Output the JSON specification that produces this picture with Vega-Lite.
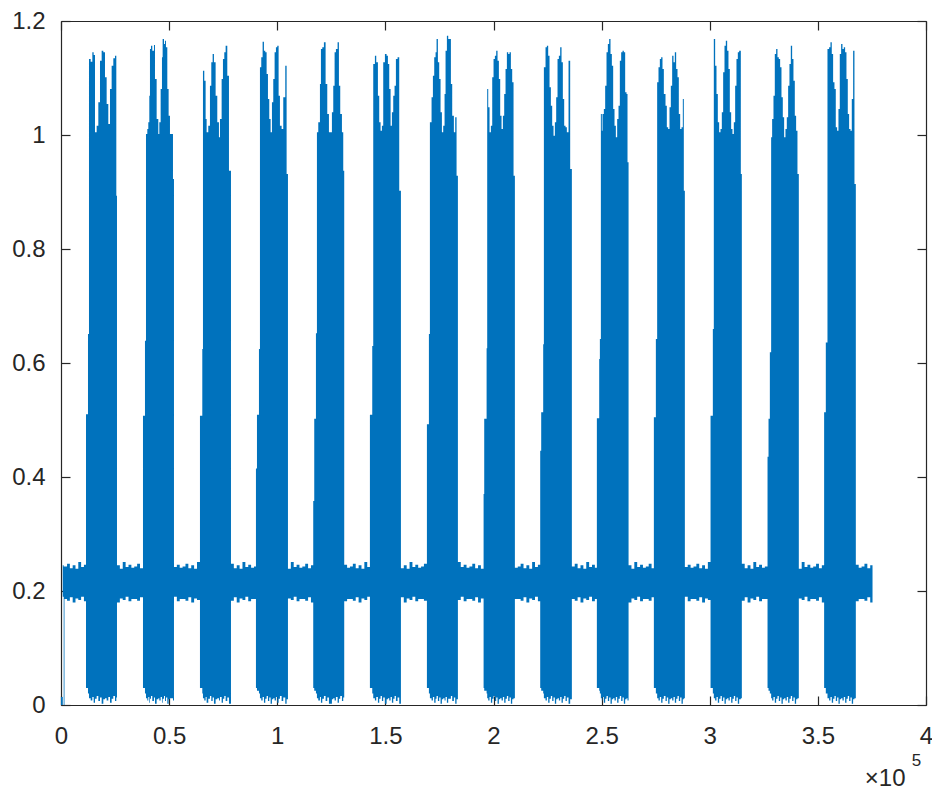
{
"$schema": "https://vega.github.io/schema/vega-lite/v6.json",
"width": 865, "height": 684,
"autosize": {"type": "none"},
"padding": {"left": 61, "top": 21, "right": 6, "bottom": 84},
"background": "white",
"config": {"view": {"stroke": null}, "axis": {"grid": false, "domainColor": "#262626", "tickColor": "#262626", "labelColor": "#262626", "labelFont": "Liberation Sans", "labelFontSize": 24, "domainWidth": 1.2, "tickWidth": 1.2, "tickSize": -9, "labelFlush": false, "labelOverlap": false, "titleFont": "Liberation Sans", "titleColor": "#262626", "titleFontWeight": "normal"}},
"data": {"values": [
{"t":0,"hi":0.014,"lo":0},{"t":0.008,"hi":0.245,"lo":0.19},{"t":0.0125,"hi":0.243,"lo":0},
{"t":0.016,"hi":0.243,"lo":0.186},{"t":0.028,"hi":0.248,"lo":0.183},{"t":0.041,"hi":0.240,"lo":0.189},{"t":0.054,"hi":0.245,"lo":0.180},{"t":0.067,"hi":0.239,"lo":0.187},{"t":0.080,"hi":0.251,"lo":0.184},{"t":0.093,"hi":0.242,"lo":0.190},{"t":0.106,"hi":0.246,"lo":0.182},
{"t":0.1156,"hi":0.510,"lo":0.03},{"t":0.1248,"hi":0.651,"lo":0.02},{"t":0.1294,"hi":1.1333,"lo":0.012},{"t":0.1372,"hi":1.1287,"lo":0.008},{"t":0.1449,"hi":1.1450,"lo":0.014},{"t":0.1510,"hi":1.1404,"lo":0.004},{"t":0.1572,"hi":1.0047,"lo":0.011},{"t":0.1649,"hi":1.0164,"lo":0.016},{"t":0.1726,"hi":1.0573,"lo":0.007},{"t":0.1803,"hi":1.1304,"lo":0.013},{"t":0.1880,"hi":1.1480,"lo":0.002},{"t":0.1957,"hi":1.1450,"lo":0.010},{"t":0.2034,"hi":1.1012,"lo":0.012},{"t":0.2111,"hi":1.0544,"lo":0.008},{"t":0.2188,"hi":1.0193,"lo":0.014},{"t":0.2265,"hi":1.0807,"lo":0.004},{"t":0.2342,"hi":1.1216,"lo":0.011},{"t":0.2419,"hi":1.1345,"lo":0.016},{"t":0.2496,"hi":1.1392,"lo":0.007},{"t":0.2558,"hi":0.8936,"lo":0.013},
{"t":0.2589,"hi":0.245,"lo":0.180},{"t":0.2722,"hi":0.239,"lo":0.187},{"t":0.2855,"hi":0.251,"lo":0.184},{"t":0.2988,"hi":0.242,"lo":0.190},{"t":0.3121,"hi":0.246,"lo":0.182},{"t":0.3254,"hi":0.241,"lo":0.186},{"t":0.3387,"hi":0.243,"lo":0.186},{"t":0.3520,"hi":0.248,"lo":0.183},{"t":0.3653,"hi":0.240,"lo":0.189},
{"t":0.3791,"hi":0.5076,"lo":0.03},{"t":0.3883,"hi":0.639,"lo":0.02},{"t":0.3930,"hi":1.0018,"lo":0.012},{"t":0.3991,"hi":1.0105,"lo":0.008},{"t":0.4037,"hi":1.0222,"lo":0.014},{"t":0.4084,"hi":1.0690,"lo":0.004},{"t":0.4114,"hi":1.1509,"lo":0.011},{"t":0.4161,"hi":1.1567,"lo":0.016},{"t":0.4222,"hi":1.1480,"lo":0.007},{"t":0.4299,"hi":1.1579,"lo":0.013},{"t":0.4346,"hi":1.0982,"lo":0.002},{"t":0.4423,"hi":1.0281,"lo":0.010},{"t":0.4500,"hi":1.0018,"lo":0.012},{"t":0.4546,"hi":1.0222,"lo":0.008},{"t":0.4608,"hi":1.0807,"lo":0.014},{"t":0.4669,"hi":1.1363,"lo":0.004},{"t":0.4700,"hi":1.1684,"lo":0.011},{"t":0.4762,"hi":1.1596,"lo":0.016},{"t":0.4808,"hi":1.1655,"lo":0.007},{"t":0.4854,"hi":1.1538,"lo":0.013},{"t":0.4916,"hi":1.0807,"lo":0.002},{"t":0.4977,"hi":1.0339,"lo":0.010},{"t":0.5039,"hi":1.0018,"lo":0.012},{"t":0.5178,"hi":0.9228,"lo":0.008},
{"t":0.5224,"hi":0.242,"lo":0.190},{"t":0.5357,"hi":0.246,"lo":0.182},{"t":0.5490,"hi":0.241,"lo":0.186},{"t":0.5623,"hi":0.243,"lo":0.186},{"t":0.5756,"hi":0.248,"lo":0.183},{"t":0.5889,"hi":0.240,"lo":0.189},{"t":0.6022,"hi":0.245,"lo":0.180},{"t":0.6155,"hi":0.239,"lo":0.187},{"t":0.6288,"hi":0.251,"lo":0.184},
{"t":0.6426,"hi":0.5076,"lo":0.03},{"t":0.6534,"hi":0.6246,"lo":0.02},{"t":0.6565,"hi":1.1129,"lo":0.012},{"t":0.6626,"hi":1.0953,"lo":0.008},{"t":0.6688,"hi":1.0281,"lo":0.014},{"t":0.6734,"hi":1.0047,"lo":0.004},{"t":0.6811,"hi":1.0164,"lo":0.011},{"t":0.6888,"hi":1.0865,"lo":0.016},{"t":0.6950,"hi":1.1275,"lo":0.007},{"t":0.7012,"hi":1.1421,"lo":0.013},{"t":0.7073,"hi":1.1275,"lo":0.002},{"t":0.7150,"hi":1.0690,"lo":0.010},{"t":0.7227,"hi":1.0222,"lo":0.012},{"t":0.7304,"hi":0.9959,"lo":0.008},{"t":0.7351,"hi":1.0281,"lo":0.014},{"t":0.7428,"hi":1.0982,"lo":0.004},{"t":0.7489,"hi":1.1333,"lo":0.011},{"t":0.7551,"hi":1.1450,"lo":0.016},{"t":0.7613,"hi":1.1567,"lo":0.007},{"t":0.7690,"hi":1.1041,"lo":0.013},{"t":0.7767,"hi":0.9374,"lo":0.002},
{"t":0.7860,"hi":0.248,"lo":0.183},{"t":0.7993,"hi":0.240,"lo":0.189},{"t":0.8126,"hi":0.245,"lo":0.180},{"t":0.8259,"hi":0.239,"lo":0.187},{"t":0.8392,"hi":0.251,"lo":0.184},{"t":0.8525,"hi":0.242,"lo":0.190},{"t":0.8658,"hi":0.246,"lo":0.182},{"t":0.8791,"hi":0.241,"lo":0.186},{"t":0.8924,"hi":0.243,"lo":0.186},
{"t":0.9015,"hi":0.415,"lo":0.03},{"t":0.9062,"hi":0.509,"lo":0.025},{"t":0.9154,"hi":0.6246,"lo":0.02},{"t":0.9200,"hi":1.1187,"lo":0.012},{"t":0.9261,"hi":1.1363,"lo":0.008},{"t":0.9323,"hi":1.1637,"lo":0.014},{"t":0.9385,"hi":1.1480,"lo":0.004},{"t":0.9446,"hi":1.1450,"lo":0.011},{"t":0.9508,"hi":1.1070,"lo":0.016},{"t":0.9570,"hi":1.0632,"lo":0.007},{"t":0.9631,"hi":1.0281,"lo":0.013},{"t":0.9693,"hi":1.0047,"lo":0.002},{"t":0.9755,"hi":1.0573,"lo":0.010},{"t":0.9816,"hi":1.0982,"lo":0.012},{"t":0.9878,"hi":1.1450,"lo":0.008},{"t":0.9939,"hi":1.1538,"lo":0.014},{"t":1.0001,"hi":1.1567,"lo":0.004},{"t":1.0063,"hi":1.0690,"lo":0.011},{"t":1.0124,"hi":1.0164,"lo":0.016},{"t":1.0202,"hi":1.0105,"lo":0.007},{"t":1.0278,"hi":1.0661,"lo":0.013},{"t":1.0371,"hi":1.1216,"lo":0.002},{"t":1.0433,"hi":0.9316,"lo":0.010},
{"t":1.0495,"hi":0.239,"lo":0.187},{"t":1.0628,"hi":0.251,"lo":0.184},{"t":1.0761,"hi":0.242,"lo":0.190},{"t":1.0894,"hi":0.246,"lo":0.182},{"t":1.1027,"hi":0.241,"lo":0.186},{"t":1.1160,"hi":0.243,"lo":0.186},{"t":1.1293,"hi":0.248,"lo":0.183},{"t":1.1426,"hi":0.240,"lo":0.189},{"t":1.1559,"hi":0.245,"lo":0.180},
{"t":1.1664,"hi":0.358,"lo":0.03},{"t":1.1711,"hi":0.502,"lo":0.025},{"t":1.1789,"hi":0.652,"lo":0.02},{"t":1.1835,"hi":1.0047,"lo":0.012},{"t":1.1897,"hi":1.0222,"lo":0.008},{"t":1.1974,"hi":1.0895,"lo":0.014},{"t":1.2020,"hi":1.1509,"lo":0.004},{"t":1.2082,"hi":1.1538,"lo":0.011},{"t":1.2158,"hi":1.1626,"lo":0.016},{"t":1.2236,"hi":1.0895,"lo":0.007},{"t":1.2313,"hi":1.0368,"lo":0.013},{"t":1.2390,"hi":1.0047,"lo":0.002},{"t":1.2528,"hi":1.0398,"lo":0.010},{"t":1.2590,"hi":1.0865,"lo":0.012},{"t":1.2652,"hi":1.1450,"lo":0.008},{"t":1.2713,"hi":1.1509,"lo":0.014},{"t":1.2790,"hi":1.1626,"lo":0.004},{"t":1.2852,"hi":1.0865,"lo":0.011},{"t":1.2913,"hi":1.0368,"lo":0.016},{"t":1.2991,"hi":1.0047,"lo":0.007},{"t":1.3052,"hi":0.9374,"lo":0.013},
{"t":1.3097,"hi":0.246,"lo":0.182},{"t":1.3230,"hi":0.241,"lo":0.186},{"t":1.3363,"hi":0.243,"lo":0.186},{"t":1.3496,"hi":0.248,"lo":0.183},{"t":1.3629,"hi":0.240,"lo":0.189},{"t":1.3762,"hi":0.245,"lo":0.180},{"t":1.3895,"hi":0.239,"lo":0.187},{"t":1.4028,"hi":0.251,"lo":0.184},{"t":1.4161,"hi":0.242,"lo":0.190},
{"t":1.4285,"hi":0.509,"lo":0.03},{"t":1.4393,"hi":0.630,"lo":0.02},{"t":1.4439,"hi":1.1246,"lo":0.012},{"t":1.4516,"hi":1.1392,"lo":0.008},{"t":1.4578,"hi":1.1275,"lo":0.014},{"t":1.4655,"hi":1.0690,"lo":0.004},{"t":1.4716,"hi":1.0222,"lo":0.011},{"t":1.4778,"hi":1.0076,"lo":0.016},{"t":1.4840,"hi":1.0164,"lo":0.007},{"t":1.4901,"hi":1.1275,"lo":0.013},{"t":1.4979,"hi":1.1421,"lo":0.002},{"t":1.5056,"hi":1.1392,"lo":0.010},{"t":1.5117,"hi":1.1246,"lo":0.012},{"t":1.5179,"hi":1.0807,"lo":0.008},{"t":1.5241,"hi":1.0164,"lo":0.014},{"t":1.5302,"hi":1.0398,"lo":0.004},{"t":1.5364,"hi":1.0690,"lo":0.011},{"t":1.5425,"hi":1.0865,"lo":0.016},{"t":1.5487,"hi":1.1333,"lo":0.007},{"t":1.5564,"hi":1.1363,"lo":0.013},{"t":1.5641,"hi":0.9023,"lo":0.002},
{"t":1.5719,"hi":0.240,"lo":0.189},{"t":1.5852,"hi":0.245,"lo":0.180},{"t":1.5985,"hi":0.239,"lo":0.187},{"t":1.6118,"hi":0.251,"lo":0.184},{"t":1.6251,"hi":0.242,"lo":0.190},{"t":1.6384,"hi":0.246,"lo":0.182},{"t":1.6517,"hi":0.241,"lo":0.186},{"t":1.6650,"hi":0.243,"lo":0.186},{"t":1.6783,"hi":0.248,"lo":0.183},
{"t":1.6921,"hi":0.4924,"lo":0.03},{"t":1.7013,"hi":0.651,"lo":0.02},{"t":1.7059,"hi":1.0222,"lo":0.012},{"t":1.7136,"hi":1.0661,"lo":0.008},{"t":1.7198,"hi":1.1041,"lo":0.014},{"t":1.7259,"hi":1.1363,"lo":0.004},{"t":1.7321,"hi":1.1450,"lo":0.011},{"t":1.7367,"hi":1.1684,"lo":0.016},{"t":1.7429,"hi":1.1275,"lo":0.007},{"t":1.7490,"hi":1.0982,"lo":0.013},{"t":1.7552,"hi":1.0398,"lo":0.002},{"t":1.7614,"hi":1.0047,"lo":0.010},{"t":1.7675,"hi":1.0164,"lo":0.012},{"t":1.7737,"hi":1.0719,"lo":0.008},{"t":1.7783,"hi":1.1480,"lo":0.014},{"t":1.7845,"hi":1.1743,"lo":0.004},{"t":1.7906,"hi":1.1684,"lo":0.011},{"t":1.8030,"hi":1.0895,"lo":0.016},{"t":1.8091,"hi":1.0339,"lo":0.007},{"t":1.8168,"hi":1.0047,"lo":0.013},{"t":1.8230,"hi":1.0310,"lo":0.002},{"t":1.8292,"hi":0.9287,"lo":0.010},
{"t":1.8354,"hi":0.251,"lo":0.184},{"t":1.8487,"hi":0.242,"lo":0.190},{"t":1.8620,"hi":0.246,"lo":0.182},{"t":1.8753,"hi":0.241,"lo":0.186},{"t":1.8886,"hi":0.243,"lo":0.186},{"t":1.9019,"hi":0.248,"lo":0.183},{"t":1.9152,"hi":0.240,"lo":0.189},{"t":1.9285,"hi":0.245,"lo":0.180},{"t":1.9418,"hi":0.239,"lo":0.187},
{"t":1.9542,"hi":0.370,"lo":0.03},{"t":1.9571,"hi":0.502,"lo":0.025},{"t":1.9681,"hi":0.626,"lo":0.02},{"t":1.9709,"hi":1.0807,"lo":0.012},{"t":1.9756,"hi":1.0485,"lo":0.008},{"t":1.9817,"hi":1.0047,"lo":0.014},{"t":1.9879,"hi":1.0164,"lo":0.004},{"t":1.9941,"hi":1.1012,"lo":0.011},{"t":2.0002,"hi":1.1333,"lo":0.016},{"t":2.0064,"hi":1.1392,"lo":0.007},{"t":2.0125,"hi":1.1480,"lo":0.013},{"t":2.0187,"hi":1.1304,"lo":0.002},{"t":2.0249,"hi":1.0982,"lo":0.010},{"t":2.0310,"hi":1.0339,"lo":0.012},{"t":2.0372,"hi":1.0105,"lo":0.008},{"t":2.0434,"hi":1.0339,"lo":0.014},{"t":2.0495,"hi":1.0719,"lo":0.004},{"t":2.0557,"hi":1.1158,"lo":0.011},{"t":2.0619,"hi":1.1450,"lo":0.016},{"t":2.0680,"hi":1.1421,"lo":0.007},{"t":2.0742,"hi":1.1450,"lo":0.013},{"t":2.0804,"hi":1.1158,"lo":0.002},{"t":2.0865,"hi":1.0924,"lo":0.010},{"t":2.0927,"hi":0.9287,"lo":0.012},
{"t":2.0989,"hi":0.241,"lo":0.186},{"t":2.1122,"hi":0.243,"lo":0.186},{"t":2.1255,"hi":0.248,"lo":0.183},{"t":2.1388,"hi":0.240,"lo":0.189},{"t":2.1521,"hi":0.245,"lo":0.180},{"t":2.1654,"hi":0.239,"lo":0.187},{"t":2.1787,"hi":0.251,"lo":0.184},{"t":2.1920,"hi":0.242,"lo":0.190},{"t":2.2053,"hi":0.246,"lo":0.182},
{"t":2.2160,"hi":0.446,"lo":0.03},{"t":2.2206,"hi":0.5135,"lo":0.025},{"t":2.2298,"hi":0.633,"lo":0.02},{"t":2.2330,"hi":1.1187,"lo":0.012},{"t":2.2406,"hi":1.1538,"lo":0.008},{"t":2.2468,"hi":1.1567,"lo":0.014},{"t":2.2529,"hi":1.1392,"lo":0.004},{"t":2.2591,"hi":1.0836,"lo":0.011},{"t":2.2653,"hi":1.0515,"lo":0.016},{"t":2.2714,"hi":1.0164,"lo":0.007},{"t":2.2776,"hi":0.9988,"lo":0.013},{"t":2.2838,"hi":1.0222,"lo":0.002},{"t":2.2899,"hi":1.0661,"lo":0.010},{"t":2.2961,"hi":1.1333,"lo":0.012},{"t":2.3023,"hi":1.1392,"lo":0.008},{"t":2.3084,"hi":1.1538,"lo":0.014},{"t":2.3146,"hi":1.1275,"lo":0.004},{"t":2.3207,"hi":1.0632,"lo":0.011},{"t":2.3269,"hi":1.0164,"lo":0.016},{"t":2.3331,"hi":1.0135,"lo":0.007},{"t":2.3392,"hi":1.0047,"lo":0.013},{"t":2.3470,"hi":1.1304,"lo":0.002},{"t":2.3546,"hi":0.9404,"lo":0.010},
{"t":2.3624,"hi":0.243,"lo":0.186},{"t":2.3757,"hi":0.248,"lo":0.183},{"t":2.3890,"hi":0.240,"lo":0.189},{"t":2.4023,"hi":0.245,"lo":0.180},{"t":2.4156,"hi":0.239,"lo":0.187},{"t":2.4289,"hi":0.251,"lo":0.184},{"t":2.4422,"hi":0.242,"lo":0.190},{"t":2.4555,"hi":0.246,"lo":0.182},{"t":2.4688,"hi":0.241,"lo":0.186},
{"t":2.4780,"hi":0.503,"lo":0.03},{"t":2.4888,"hi":0.607,"lo":0.025},{"t":2.4919,"hi":0.642,"lo":0.02},{"t":2.4965,"hi":1.0368,"lo":0.012},{"t":2.5010,"hi":1.0076,"lo":0.008},{"t":2.5041,"hi":1.0368,"lo":0.014},{"t":2.5103,"hi":1.0456,"lo":0.004},{"t":2.5164,"hi":1.0865,"lo":0.011},{"t":2.5226,"hi":1.1450,"lo":0.016},{"t":2.5288,"hi":1.1596,"lo":0.007},{"t":2.5349,"hi":1.1684,"lo":0.013},{"t":2.5411,"hi":1.1421,"lo":0.002},{"t":2.5473,"hi":1.1216,"lo":0.010},{"t":2.5534,"hi":1.0456,"lo":0.012},{"t":2.5596,"hi":1.0164,"lo":0.008},{"t":2.5658,"hi":0.9959,"lo":0.014},{"t":2.5719,"hi":1.0281,"lo":0.004},{"t":2.5781,"hi":1.0515,"lo":0.011},{"t":2.5842,"hi":1.1304,"lo":0.016},{"t":2.5904,"hi":1.1450,"lo":0.007},{"t":2.5966,"hi":1.1480,"lo":0.013},{"t":2.6027,"hi":1.1450,"lo":0.002},{"t":2.6089,"hi":1.0749,"lo":0.010},{"t":2.6151,"hi":1.0719,"lo":0.012},{"t":2.6197,"hi":0.9521,"lo":0.008},
{"t":2.6246,"hi":0.245,"lo":0.180},{"t":2.6379,"hi":0.239,"lo":0.187},{"t":2.6512,"hi":0.251,"lo":0.184},{"t":2.6645,"hi":0.242,"lo":0.190},{"t":2.6778,"hi":0.246,"lo":0.182},{"t":2.6911,"hi":0.241,"lo":0.186},{"t":2.7044,"hi":0.243,"lo":0.186},{"t":2.7177,"hi":0.248,"lo":0.183},{"t":2.7310,"hi":0.240,"lo":0.189},
{"t":2.7416,"hi":0.5047,"lo":0.03},{"t":2.7508,"hi":0.642,"lo":0.02},{"t":2.7568,"hi":1.0924,"lo":0.012},{"t":2.7630,"hi":1.1187,"lo":0.008},{"t":2.7692,"hi":1.1333,"lo":0.014},{"t":2.7753,"hi":1.1363,"lo":0.004},{"t":2.7815,"hi":1.1158,"lo":0.011},{"t":2.7877,"hi":1.0719,"lo":0.016},{"t":2.7954,"hi":1.0515,"lo":0.007},{"t":2.8015,"hi":1.0135,"lo":0.013},{"t":2.8077,"hi":1.0105,"lo":0.002},{"t":2.8139,"hi":1.0485,"lo":0.010},{"t":2.8200,"hi":1.0865,"lo":0.012},{"t":2.8262,"hi":1.1392,"lo":0.008},{"t":2.8324,"hi":1.1275,"lo":0.014},{"t":2.8385,"hi":1.1450,"lo":0.004},{"t":2.8447,"hi":1.1158,"lo":0.011},{"t":2.8509,"hi":1.1012,"lo":0.016},{"t":2.8570,"hi":1.0368,"lo":0.007},{"t":2.8632,"hi":1.0105,"lo":0.013},{"t":2.8694,"hi":1.0135,"lo":0.002},{"t":2.8755,"hi":1.0632,"lo":0.010},{"t":2.8801,"hi":0.9023,"lo":0.012},
{"t":2.8849,"hi":0.242,"lo":0.190},{"t":2.8982,"hi":0.246,"lo":0.182},{"t":2.9115,"hi":0.241,"lo":0.186},{"t":2.9248,"hi":0.243,"lo":0.186},{"t":2.9381,"hi":0.248,"lo":0.183},{"t":2.9514,"hi":0.240,"lo":0.189},{"t":2.9647,"hi":0.245,"lo":0.180},{"t":2.9780,"hi":0.239,"lo":0.187},{"t":2.9913,"hi":0.251,"lo":0.184},
{"t":3.0037,"hi":0.5076,"lo":0.03},{"t":3.0143,"hi":0.6596,"lo":0.02},{"t":3.0188,"hi":1.1684,"lo":0.012},{"t":3.0250,"hi":1.1216,"lo":0.008},{"t":3.0312,"hi":1.0719,"lo":0.014},{"t":3.0373,"hi":1.0222,"lo":0.004},{"t":3.0435,"hi":1.0047,"lo":0.011},{"t":3.0497,"hi":1.0105,"lo":0.016},{"t":3.0558,"hi":1.0398,"lo":0.007},{"t":3.0620,"hi":1.1100,"lo":0.013},{"t":3.0682,"hi":1.1567,"lo":0.002},{"t":3.0743,"hi":1.1655,"lo":0.010},{"t":3.0805,"hi":1.1480,"lo":0.012},{"t":3.0866,"hi":1.1158,"lo":0.008},{"t":3.0928,"hi":1.0398,"lo":0.014},{"t":3.0990,"hi":1.0105,"lo":0.004},{"t":3.1051,"hi":1.0018,"lo":0.011},{"t":3.1113,"hi":1.0222,"lo":0.016},{"t":3.1175,"hi":1.0865,"lo":0.007},{"t":3.1236,"hi":1.1333,"lo":0.013},{"t":3.1298,"hi":1.1450,"lo":0.002},{"t":3.1360,"hi":1.1480,"lo":0.010},{"t":3.1437,"hi":0.9316,"lo":0.012},
{"t":3.1484,"hi":0.248,"lo":0.183},{"t":3.1617,"hi":0.240,"lo":0.189},{"t":3.1750,"hi":0.245,"lo":0.180},{"t":3.1883,"hi":0.239,"lo":0.187},{"t":3.2016,"hi":0.251,"lo":0.184},{"t":3.2149,"hi":0.242,"lo":0.190},{"t":3.2282,"hi":0.246,"lo":0.182},{"t":3.2415,"hi":0.241,"lo":0.186},{"t":3.2548,"hi":0.243,"lo":0.186},
{"t":3.2672,"hi":0.4357,"lo":0.03},{"t":3.2718,"hi":0.502,"lo":0.025},{"t":3.2779,"hi":0.6187,"lo":0.02},{"t":3.2839,"hi":0.9959,"lo":0.012},{"t":3.2885,"hi":1.0281,"lo":0.008},{"t":3.2947,"hi":1.0690,"lo":0.014},{"t":3.3008,"hi":1.1421,"lo":0.004},{"t":3.3070,"hi":1.1509,"lo":0.011},{"t":3.3132,"hi":1.1363,"lo":0.016},{"t":3.3193,"hi":1.1333,"lo":0.007},{"t":3.3255,"hi":1.1187,"lo":0.013},{"t":3.3317,"hi":1.0661,"lo":0.002},{"t":3.3378,"hi":1.0310,"lo":0.010},{"t":3.3440,"hi":0.9959,"lo":0.012},{"t":3.3501,"hi":1.0105,"lo":0.008},{"t":3.3563,"hi":1.0310,"lo":0.014},{"t":3.3625,"hi":1.0865,"lo":0.004},{"t":3.3686,"hi":1.1246,"lo":0.011},{"t":3.3748,"hi":1.1567,"lo":0.016},{"t":3.3810,"hi":1.1333,"lo":0.007},{"t":3.3871,"hi":1.0953,"lo":0.013},{"t":3.3933,"hi":1.0339,"lo":0.002},{"t":3.3994,"hi":1.0076,"lo":0.010},{"t":3.4056,"hi":0.9316,"lo":0.012},
{"t":3.4119,"hi":0.239,"lo":0.187},{"t":3.4252,"hi":0.251,"lo":0.184},{"t":3.4385,"hi":0.242,"lo":0.190},{"t":3.4518,"hi":0.246,"lo":0.182},{"t":3.4651,"hi":0.241,"lo":0.186},{"t":3.4784,"hi":0.243,"lo":0.186},{"t":3.4917,"hi":0.248,"lo":0.183},{"t":3.5050,"hi":0.240,"lo":0.189},{"t":3.5183,"hi":0.245,"lo":0.180},
{"t":3.5289,"hi":0.5135,"lo":0.03},{"t":3.5367,"hi":0.636,"lo":0.02},{"t":3.5444,"hi":1.1509,"lo":0.012},{"t":3.5520,"hi":1.1538,"lo":0.008},{"t":3.5582,"hi":1.1626,"lo":0.014},{"t":3.5643,"hi":1.1421,"lo":0.004},{"t":3.5705,"hi":1.0924,"lo":0.011},{"t":3.5767,"hi":1.0807,"lo":0.016},{"t":3.5828,"hi":1.0135,"lo":0.007},{"t":3.5890,"hi":1.0076,"lo":0.013},{"t":3.5952,"hi":1.0456,"lo":0.002},{"t":3.6013,"hi":1.1421,"lo":0.010},{"t":3.6075,"hi":1.1596,"lo":0.012},{"t":3.6137,"hi":1.1509,"lo":0.008},{"t":3.6198,"hi":1.1538,"lo":0.014},{"t":3.6260,"hi":1.1450,"lo":0.004},{"t":3.6322,"hi":1.0982,"lo":0.011},{"t":3.6383,"hi":1.0368,"lo":0.016},{"t":3.6445,"hi":1.0105,"lo":0.007},{"t":3.6507,"hi":1.0076,"lo":0.013},{"t":3.6568,"hi":1.0632,"lo":0.002},{"t":3.6630,"hi":1.1480,"lo":0.010},{"t":3.6692,"hi":0.9140,"lo":0.012},
{"t":3.6755,"hi":0.246,"lo":0.182},{"t":3.6888,"hi":0.241,"lo":0.186},{"t":3.7021,"hi":0.243,"lo":0.186},{"t":3.7154,"hi":0.248,"lo":0.183},{"t":3.7287,"hi":0.240,"lo":0.189},{"t":3.7420,"hi":0.245,"lo":0.180},{"t":3.7527,"hi":0.245,"lo":0.180}
]},
"layer": [
{"mark": {"type": "area", "interpolate": "step-after", "color": "#0072BD", "clip": true},
 "encoding": {
  "x": {"field": "t", "type": "quantitative", "scale": {"domain": [0, 4], "nice": false, "zero": false},
        "axis": {"orient": "bottom", "values": [0, 0.5, 1, 1.5, 2, 2.5, 3, 3.5, 4], "format": "~g", "labelPadding": 28,
                 "title": "×10", "titleFontSize": 24, "titleX": 844, "titleY": 80, "titleAlign": "right", "titleBaseline": "alphabetic"}},
  "y": {"field": "hi", "type": "quantitative", "scale": {"domain": [0, 1.2], "nice": false, "zero": false},
        "axis": {"orient": "left", "values": [0, 0.2, 0.4, 0.6, 0.8, 1, 1.2], "format": "~g", "labelPadding": 25, "title": null}},
  "y2": {"field": "lo"}
 }},
{"mark": {"type": "area", "opacity": 0},
 "encoding": {
  "x": {"field": "t", "type": "quantitative", "axis": {"orient": "top", "values": [0, 0.5, 1, 1.5, 2, 2.5, 3, 3.5, 4], "labels": false, "title": null}},
  "y": {"field": "hi", "type": "quantitative",
        "axis": {"orient": "right", "values": [0, 0.2, 0.4, 0.6, 0.8, 1, 1.2], "labels": false,
                 "title": "5", "titleFontSize": 17, "titleAngle": 0, "titleX": -10, "titleY": 744, "titleAlign": "center", "titleBaseline": "alphabetic"}}
 }}
],
"resolve": {"axis": {"x": "independent", "y": "independent"}}
}
